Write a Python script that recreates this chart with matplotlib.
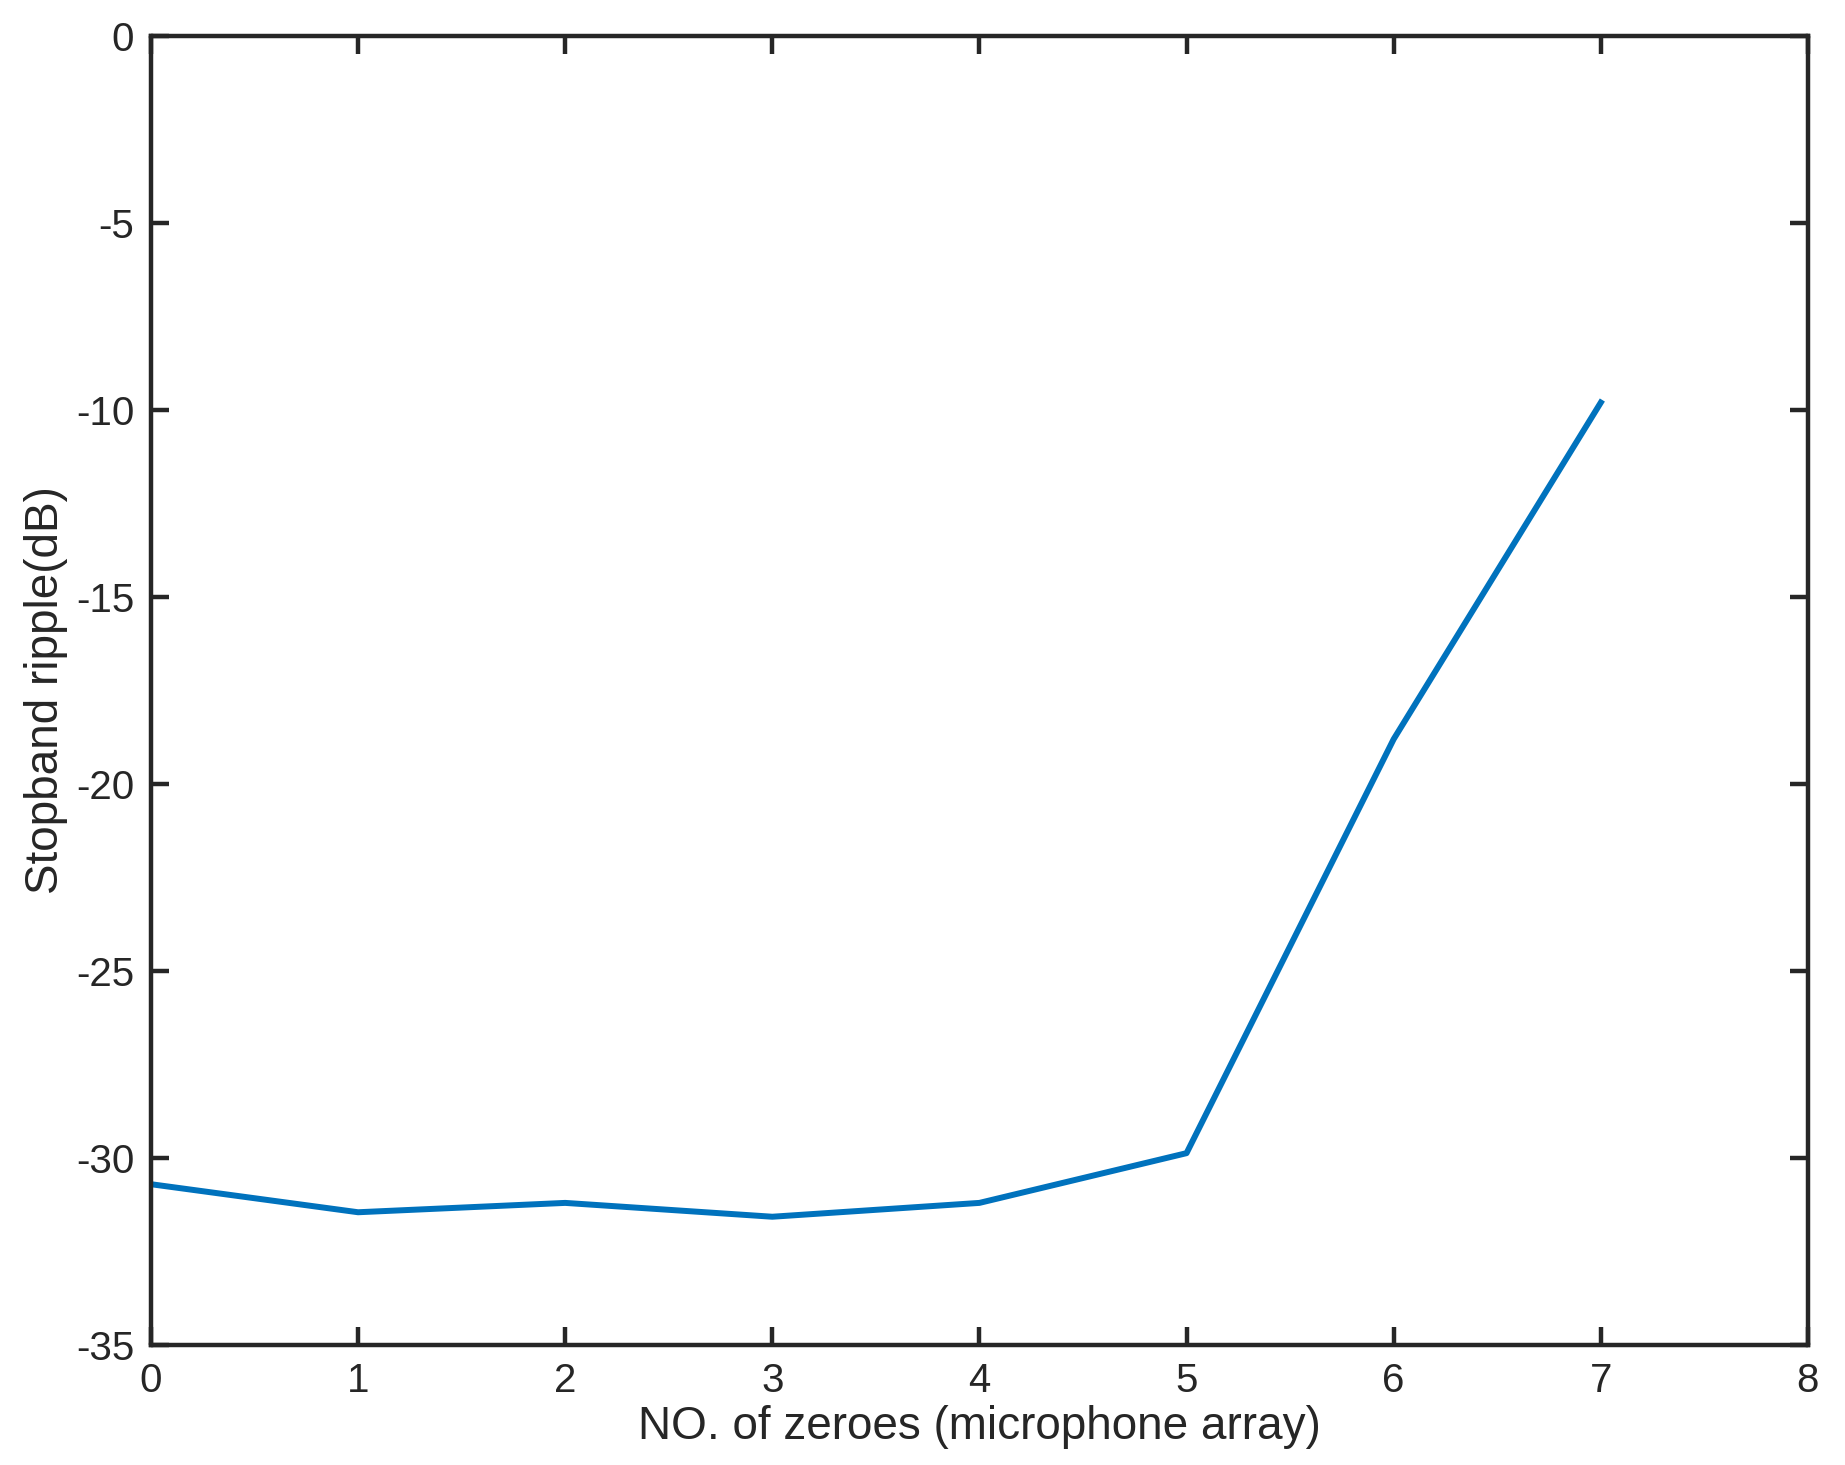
import matplotlib
matplotlib.use('Agg')
import matplotlib.pyplot as plt

zeroes = [0, 1, 2, 3, 4, 5, 6, 7]
ripple = [-30.7, -31.45, -31.2, -31.57, -31.2, -29.87, -18.8, -9.8]
xticks = [0, 1, 2, 3, 4, 5, 6, 7, 8]
yticks = [0, -5, -10, -15, -20, -25, -30, -35]

plt.rcParams['font.family'] = ['Liberation Sans', 'DejaVu Sans']
dark = '#262626'

fig = plt.figure(figsize=(18.45, 14.65), dpi=100)
ax = fig.add_axes([0.0818, 0.0819, 0.8981, 0.8935])

ax.plot(zeroes, ripple, color='#0072BD', linewidth=4.3)

ax.set_xlim(0, 8)
ax.set_ylim(-35, 0)
ax.set_xticks(xticks)
ax.set_yticks(yticks)
ax.set_yticklabels([str(v) for v in yticks])

for s in ax.spines.values():
    s.set_linewidth(3.2)
    s.set_color(dark)
ax.tick_params(direction='in', length=13, width=3.2, colors=dark,
               labelsize=29, pad=12, top=True, right=True)

ax.set_xlabel('NO. of zeroes (microphone array)', fontsize=33, color=dark, labelpad=4)
ax.set_ylabel('Stopband ripple(dB)', fontsize=33, color=dark, labelpad=6)

fig.savefig('out.png', dpi=100)
